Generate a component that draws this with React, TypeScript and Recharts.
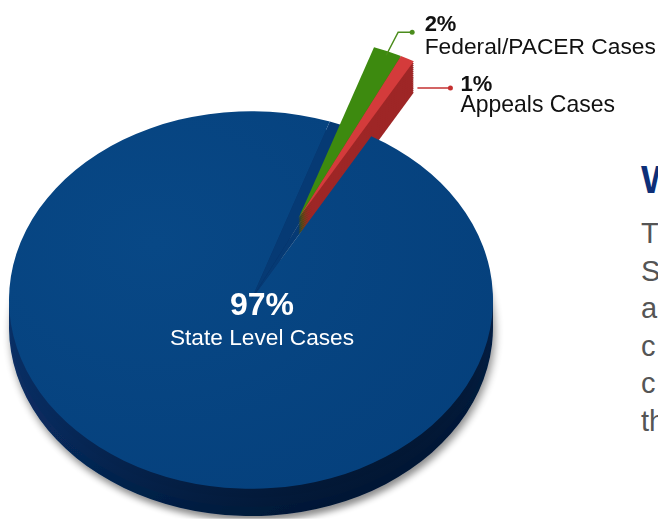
import React from "react";
import { PieChart, Pie, Cell } from "recharts";

const categories = ["Federal/PACER Cases", "Appeals Cases", "State Level Cases"];
const shares = [2, 1, 97];
const percentLabels = ["2%", "1%", "97%"];
const pulledOut = [true, true, false];
const leaderKinds = ["elbow", "side", "inside"];
const topColors = ["#3d8a0f", "#d43b3b", "url(#blueTop)"];
const sideColors = ["#2b6307", "#9e2626", "url(#blueSide)"];
const leaderColors = ["#4b8c1c", "#c53030", "#ffffff"];
const pageHeading = "W";
const pageLines = ["T", "S", "a", "c", "c", "th"];

const data = categories.map((name, i) => ({ name, value: shares[i], pct: percentLabels[i] }));

// the pie is drawn round, then squashed vertically with css to look tilted
const SQUASH = 0.78;
const W = 658;
const H = 519 / SQUASH;
const CX = 251;
const CY = 300 / SQUASH;
const R = 242;
const WEDGE_R = 232;
const PULL = 115;
const DEPTH = 35;
const WEDGE_DEPTH = 40;
const START = 71;
const END = START - 360;
const discSteps = [1, 0.66, 0.33];
const wedgeSteps = Array.from({ length: 16 }, (_, k) => 1 - k / 16);
const RAD = Math.PI / 180;
const FONT = '"Liberation Sans", Arial, Helvetica, sans-serif';
const NOTCH_WALL = "#063a74";

const total = shares.reduce((a, b) => a + b, 0);
const pulledShare = shares.reduce((a, v, i) => a + (pulledOut[i] ? v : 0), 0);
const pullDeg = START - (pulledShare / total) * 180;
const WX = CX + PULL * Math.cos(pullDeg * RAD);
const WY = CY - PULL * Math.sin(pullDeg * RAD);

const upright = (x: number, y: number, children: React.ReactNode) => (
  <g transform={`translate(${x} ${y}) scale(1 ${1 / SQUASH})`}>{children}</g>
);

function blueLabel(props: any) {
  const { cx, cy, index } = props;
  if (pulledOut[index]) return null;
  return upright(
    cx,
    cy,
    <g fontFamily={FONT} fill="#fff" textAnchor="middle">
      <text x={11} y={15} fontSize={32} fontWeight={700}>{percentLabels[index]}</text>
      <text x={11} y={45} fontSize={22.7}>{categories[index]}</text>
    </g>
  );
}

function wedgeLabel(props: any) {
  const { cx, cy, midAngle, outerRadius, index } = props;
  if (!pulledOut[index]) return null;
  const px = cx + outerRadius * Math.cos(-midAngle * RAD);
  const py = cy + outerRadius * Math.sin(-midAngle * RAD);
  const c = leaderColors[index];
  if (leaderKinds[index] === "elbow") {
    return upright(
      px,
      py,
      <g fontFamily={FONT} fill="#111">
        <polyline points="-1.5,4 10.5,-19 24.5,-19" fill="none" stroke={c} strokeWidth={1.5} />
        <circle cx={24.5} cy={-19} r={2.5} fill={c} />
        <text x={37} y={-20} fontSize={22} fontWeight={700}>{percentLabels[index]}</text>
        <text x={37} y={3} fontSize={22.8}>{categories[index]}</text>
      </g>
    );
  }
  return upright(
    px,
    py,
    <g fontFamily={FONT} fill="#111">
      <line x1={10} y1={29.5} x2={43} y2={29.5} stroke={c} strokeWidth={1.5} />
      <circle cx={43} cy={29.5} r={2.5} fill={c} />
      <text x={53} y={32.5} fontSize={22} fontWeight={700}>{percentLabels[index]}</text>
      <text x={53} y={53.5} fontSize={23}>{categories[index]}</text>
    </g>
  );
}

export default function App() {
  return (
    <div style={{ position: "fixed", left: 0, top: 0, width: 658, height: 519, overflow: "hidden", background: "#fff" }}>
      <svg width={0} height={0} style={{ position: "absolute" }}>
        <defs>
          <linearGradient id="blueSide" x1="0" y1="0" x2="0.7" y2="1">
            <stop offset="0%" stopColor="#0a3a78" />
            <stop offset="55%" stopColor="#072a5c" />
            <stop offset="100%" stopColor="#021632" />
          </linearGradient>
          <radialGradient id="blueTop" cx="0.3" cy="0.35" r="0.8">
            <stop offset="0%" stopColor="#084886" />
            <stop offset="100%" stopColor="#05407c" />
          </radialGradient>
          <filter id="discShadow" x="-10%" y="-10%" width="120%" height="125%">
            <feGaussianBlur in="SourceAlpha" stdDeviation="4" />
            <feOffset dx="2" dy="6" result="b" />
            <feComponentTransfer>
              <feFuncA type="linear" slope="0.45" />
            </feComponentTransfer>
            <feMerge>
              <feMergeNode />
              <feMergeNode in="SourceGraphic" />
            </feMerge>
          </filter>
        </defs>
      </svg>

      <div style={{ width: W, height: H, transform: `scaleY(${SQUASH})`, transformOrigin: "0 0" }}>
        <PieChart width={W} height={H} margin={{ top: 0, right: 0, bottom: 0, left: 0 }}>
          {discSteps.map((s, k) => (
            <Pie
              key={`bs${k}`}
              data={data}
              dataKey="value"
              cx={CX}
              cy={CY + DEPTH * s}
              outerRadius={R}
              startAngle={START}
              endAngle={END}
              stroke="none"
              isAnimationActive={false}
            >
              {data.map((d, i) => (
                <Cell
                  key={d.name}
                  fill={pulledOut[i] ? "transparent" : sideColors[i]}
                  filter={k === 0 && !pulledOut[i] ? "url(#discShadow)" : undefined}
                />
              ))}
            </Pie>
          ))}
          {/* inner wall of the gap left by the pulled-out slices */}
          <Pie
            data={data}
            dataKey="value"
            cx={CX}
            cy={CY}
            outerRadius={R}
            startAngle={START}
            endAngle={END}
            stroke="none"
            isAnimationActive={false}
          >
            {data.map((d, i) => (
              <Cell key={d.name} fill={pulledOut[i] ? NOTCH_WALL : "transparent"} />
            ))}
          </Pie>
          {wedgeSteps.map((s, k) => (
            <Pie
              key={`ws${k}`}
              data={data}
              dataKey="value"
              cx={WX}
              cy={WY + WEDGE_DEPTH * s}
              outerRadius={WEDGE_R}
              startAngle={START}
              endAngle={END}
              stroke="none"
              isAnimationActive={false}
            >
              {data.map((d, i) => (
                <Cell key={d.name} fill={pulledOut[i] ? sideColors[i] : "transparent"} />
              ))}
            </Pie>
          ))}
          <Pie
            data={data}
            dataKey="value"
            cx={CX}
            cy={CY}
            outerRadius={R}
            startAngle={START}
            endAngle={END}
            stroke="none"
            isAnimationActive={false}
            label={blueLabel}
            labelLine={false}
          >
            {data.map((d, i) => (
              <Cell key={d.name} fill={pulledOut[i] ? "transparent" : topColors[i]} />
            ))}
          </Pie>
          <Pie
            data={data}
            dataKey="value"
            cx={WX}
            cy={WY}
            outerRadius={WEDGE_R}
            startAngle={START}
            endAngle={END}
            stroke="none"
            isAnimationActive={false}
            label={wedgeLabel}
            labelLine={false}
          >
            {data.map((d, i) => (
              <Cell key={d.name} fill={pulledOut[i] ? topColors[i] : "transparent"} />
            ))}
          </Pie>
        </PieChart>
      </div>

      <svg width={658} height={519} style={{ position: "absolute", left: 0, top: 0 }}>
        <text x={641} y={193} fontFamily={FONT} fontSize={38} fontWeight={700} fill="#0d2f78">{pageHeading}</text>
        {pageLines.map((t, i) => (
          <text key={i} x={641} y={243 + i * 37.5} fontFamily={FONT} fontSize={29} fill="#555">{t}</text>
        ))}
      </svg>
    </div>
  );
}
